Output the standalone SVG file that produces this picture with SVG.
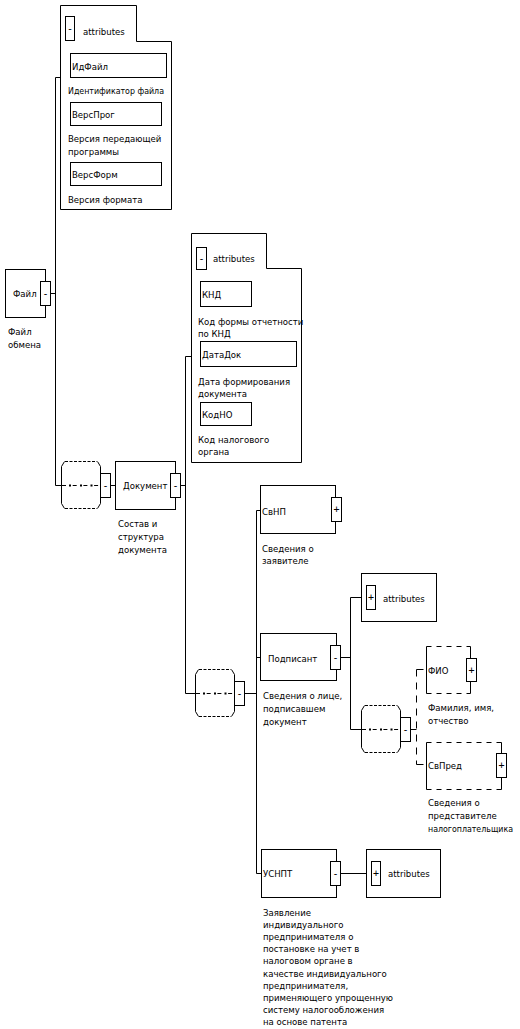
<svg xmlns="http://www.w3.org/2000/svg" xmlns:xlink="http://www.w3.org/1999/xlink" width="520" height="1029" viewBox="0 0 520 1029">
<style>
.b{fill:#fff;stroke:#000;stroke-width:1}
.nf{fill:#fff;stroke:none}
.s{fill:none;stroke:#000;stroke-width:1}
.d{fill:none;stroke:#000;stroke-width:1;stroke-dasharray:5 5}
.dc{fill:none;stroke:#000;stroke-width:1;stroke-dasharray:7 6}
.t{font-family:"DejaVu Sans Condensed","DejaVu Sans",sans-serif;font-size:9.5px;fill:#000}
.pm{font-family:"DejaVu Sans Mono",monospace;font-size:10px;fill:#000;text-anchor:middle}
</style>
<defs>
<g id="seq">
<path class="nf" d="M0.5,-18.5 L3.5,-23.5 H36.5 L39.5,-18.5 V18.5 L36.5,23.5 H3.5 L0.5,18.5 Z"/>
<path class="s" d="M0.5,-18.5 L3.5,-23.5 M36.5,-23.5 L39.5,-18.5 M0.5,18.5 L3.5,23.5 M36.5,23.5 L39.5,18.5"/>
<path class="s" style="stroke-dasharray:3 1.5" d="M4,-23.5 H36 M4,23.5 H36"/>
<path class="s" d="M0.5,-18.5 V18.5 M39.5,-18.5 V18.5"/>
<path class="s" style="stroke-dasharray:4 6.7" d="M1,0.5 H40"/>
<rect x="8" y="-0.5" width="2" height="2" fill="#000"/>
<rect x="19" y="-0.5" width="2" height="2" fill="#000"/>
<rect x="29.5" y="-0.5" width="2" height="2" fill="#000"/>
<rect class="b" x="39.5" y="-11.5" width="10" height="24"/>
<text class="pm" x="44.5" y="4">-</text>
</g>
</defs>

<g id="connectors">
<path class="s" d="M55.5,77.5 H60.5 M55.5,77.5 V485.5 H61 M50.5,293.5 H55.5"/>
<path class="s" d="M110.5,485.5 H115.5 M180.5,485.5 H185.5 M185.5,356.5 H191.5 M185.5,356.5 V693.5 H195"/>
<path class="s" d="M245,693.5 H256.5 M256.5,510.5 V873.5 M256.5,510.5 H260.5 M256.5,657.5 H260.5 M256.5,873.5 H261.5"/>
<path class="s" d="M340.5,657.5 H350.5 M350.5,597.5 V729.5 M350.5,597.5 H361.5 M350.5,729.5 H361"/>
<path class="s" d="M340.5,873.5 H366.5"/>
<path class="s" d="M411,729.5 H416.5"/>
<path class="dc" d="M416.5,669.5 V764.5 M416.5,669.5 H426.5 M416.5,764.5 H426.5"/>
</g>

<g id="file">
<rect class="b" x="5.5" y="269.5" width="40" height="48"/>
<rect class="b" x="40.5" y="281.5" width="10" height="24"/>
<text class="pm" x="45.5" y="297">-</text>
<text class="t" x="13" y="297">Файл</text>
<text class="t" x="8" y="335">Файл</text>
<text class="t" x="8" y="348">обмена</text>
</g>

<g id="attributes-file">
<path class="b" d="M60.5,5.5 H136.5 V41.5 H171.5 V209.5 H60.5 Z"/>
<rect class="b" x="65.5" y="16.5" width="9" height="24"/>
<text class="pm" x="70" y="32">-</text>
<text class="t" x="83" y="35">attributes</text>
<rect class="b" x="70.5" y="53.5" width="96" height="24"/>
<text class="t" x="72" y="70">ИдФайл</text>
<text class="t" x="68" y="94" textLength="96" lengthAdjust="spacingAndGlyphs">Идентификатор файла</text>
<rect class="b" x="70.5" y="102.5" width="91" height="23"/>
<text class="t" x="72" y="118">ВерсПрог</text>
<text class="t" x="68" y="142">Версия передающей</text>
<text class="t" x="68" y="155">программы</text>
<rect class="b" x="70.5" y="162.5" width="91" height="23"/>
<text class="t" x="72" y="178">ВерсФорм</text>
<text class="t" x="68" y="203">Версия формата</text>
</g>

<g id="seq-file">
<use xlink:href="#seq" href="#seq" x="61" y="485"/>
</g>

<g id="document">
<rect class="b" x="115.5" y="461.5" width="60" height="48"/>
<rect class="b" x="170.5" y="473.5" width="10" height="24"/>
<text class="pm" x="175.5" y="489">-</text>
<text class="t" x="123" y="489">Документ</text>
<text class="t" x="118" y="527">Состав и</text>
<text class="t" x="118" y="540">структура</text>
<text class="t" x="118" y="553">документа</text>
</g>

<g id="attributes-document">
<path class="b" d="M191.5,233.5 H266.5 V268.5 H301.5 V462.5 H191.5 Z"/>
<rect class="b" x="196.5" y="247.5" width="10" height="22"/>
<text class="pm" x="201.5" y="262">-</text>
<text class="t" x="213" y="262">attributes</text>
<rect class="b" x="200.5" y="281.5" width="51" height="25"/>
<text class="t" x="202" y="298">КНД</text>
<text class="t" x="198" y="325">Код формы отчетности</text>
<text class="t" x="198" y="337">по КНД</text>
<rect class="b" x="200.5" y="341.5" width="96" height="25"/>
<text class="t" x="202" y="358">ДатаДок</text>
<text class="t" x="198" y="385">Дата формирования</text>
<text class="t" x="198" y="397">документа</text>
<rect class="b" x="200.5" y="402.5" width="51" height="23"/>
<text class="t" x="202" y="418">КодНО</text>
<text class="t" x="198" y="443">Код налогового</text>
<text class="t" x="198" y="455">органа</text>
</g>

<g id="seq-document">
<use xlink:href="#seq" href="#seq" x="195" y="693"/>
</g>

<g id="svnp">
<rect class="b" x="260.5" y="485.5" width="75" height="48"/>
<rect class="b" x="331.5" y="497.5" width="10" height="24"/>
<text class="pm" x="336.5" y="513">+</text>
<text class="t" x="262" y="515">СвНП</text>
<text class="t" x="262" y="552">Сведения о</text>
<text class="t" x="262" y="564">заявителе</text>
</g>

<g id="podpisant">
<rect class="b" x="260.5" y="633.5" width="76" height="47"/>
<rect class="b" x="330.5" y="645.5" width="10" height="24"/>
<text class="pm" x="335.5" y="661">-</text>
<text class="t" x="268" y="662">Подписант</text>
<text class="t" x="263" y="699">Сведения о лице,</text>
<text class="t" x="263" y="712">подписавшем</text>
<text class="t" x="263" y="725">документ</text>
</g>

<g id="attributes-podpisant">
<rect class="b" x="361.5" y="573.5" width="75" height="48"/>
<rect class="b" x="366.5" y="585.5" width="9" height="24"/>
<text class="pm" x="371" y="601">+</text>
<text class="t" x="383" y="602">attributes</text>
</g>

<g id="seq-podpisant">
<use xlink:href="#seq" href="#seq" x="361" y="729"/>
</g>

<g id="fio">
<rect class="nf" x="426.5" y="646.5" width="44" height="47"/>
<path class="d" d="M426.5,646.5 H470.5 M426.5,693.5 H470.5"/>
<path class="s" d="M426.5,646.5 V693.5 M470.5,646.5 V693.5"/>
<rect class="b" x="466.5" y="658.5" width="10" height="23"/>
<text class="pm" x="471.5" y="674">+</text>
<text class="t" x="428" y="674">ФИО</text>
<text class="t" x="428" y="711">Фамилия, имя,</text>
<text class="t" x="428" y="724">отчество</text>
</g>

<g id="svpred">
<rect class="nf" x="426.5" y="742.5" width="75" height="47"/>
<path class="d" d="M426.5,742.5 H501.5 M426.5,789.5 H501.5"/>
<path class="s" d="M426.5,742.5 V789.5 M501.5,742.5 V789.5"/>
<rect class="b" x="496.5" y="753.5" width="10" height="24"/>
<text class="pm" x="501.5" y="769">+</text>
<text class="t" x="428" y="769">СвПред</text>
<text class="t" x="428" y="806">Сведения о</text>
<text class="t" x="428" y="819">представителе</text>
<text class="t" x="428" y="832" textLength="85" lengthAdjust="spacingAndGlyphs">налогоплательщика</text>
</g>

<g id="usnpt">
<rect class="b" x="261.5" y="849.5" width="75" height="48"/>
<rect class="b" x="330.5" y="861.5" width="10" height="24"/>
<text class="pm" x="335.5" y="877">-</text>
<text class="t" x="263" y="877">УСНПТ</text>
<text class="t" x="263" y="916">Заявление</text>
<text class="t" x="263" y="928">индивидуального</text>
<text class="t" x="263" y="940">предпринимателя о</text>
<text class="t" x="263" y="952">постановке на учет в</text>
<text class="t" x="263" y="964">налоговом органе в</text>
<text class="t" x="263" y="976.5">качестве индивидуального</text>
<text class="t" x="263" y="989">предпринимателя,</text>
<text class="t" x="263" y="1001">применяющего упрощенную</text>
<text class="t" x="263" y="1013">систему налогообложения</text>
<text class="t" x="263" y="1025">на основе патента</text>
</g>

<g id="attributes-usnpt">
<rect class="b" x="366.5" y="849.5" width="74" height="48"/>
<rect class="b" x="371.5" y="861.5" width="9" height="24"/>
<text class="pm" x="376" y="877">+</text>
<text class="t" x="388" y="877">attributes</text>
</g>
</svg>
